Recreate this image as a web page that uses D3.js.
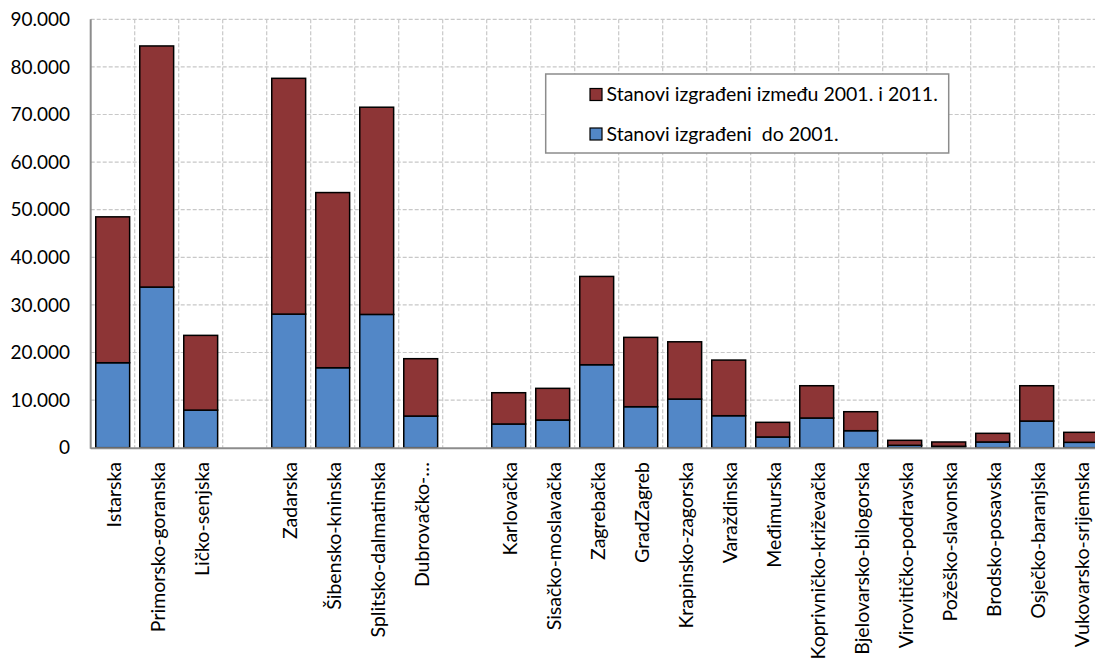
<!DOCTYPE html>
<html>
<head>
<meta charset="utf-8">
<script src="https://d3js.org/d3.v7.min.js"></script>
<style>
  body { margin: 0; background: #fff; }
  text { font-family: Lato, "Open Sans", sans-serif; fill: #000; white-space: pre; }
</style>
</head>
<body>
<svg width="1095" height="659"></svg>
<script>
// categories ("" = empty slot between regions)
const categories = [
  "Istarska", "Primorsko-goranska", "Ličko-senjska", "",
  "Zadarska", "Šibensko-kninska", "Splitsko-dalmatinska", "Dubrovačko-…", "",
  "Karlovačka", "Sisačko-moslavačka", "Zagrebačka", "GradZagreb",
  "Krapinsko-zagorska", "Varaždinska", "Međimurska", "Koprivničko-križevačka",
  "Bjelovarsko-bilogorska", "Virovitičko-podravska", "Požeško-slavonska",
  "Brodsko-posavska", "Osječko-baranjska", "Vukovarsko-srijemska"
];
// flats built up to 2001
const builtTo2001 = [
  17850, 33750, 7900, null,
  28070, 16800, 28000, 6650, null,
  4980, 5820, 17430, 8610,
  10220, 6720, 2250, 6240,
  3570, 500, 300,
  1200, 5600, 1130
];
// flats built between 2001 and 2011
const built2001to2011 = [
  30650, 50650, 15700, null,
  49530, 36800, 43530, 12050, null,
  6570, 6650, 18550, 14570,
  12030, 11690, 3080, 6780,
  3990, 1050, 900,
  1820, 7420, 2100
];
const yTicks = [0, 10000, 20000, 30000, 40000, 50000, 60000, 70000, 80000, 90000];
const seriesNames = ["Stanovi izgrađeni između 2001. i 2011.", "Stanovi izgrađeni  do 2001."];
const colors = { red: "#8d3536", blue: "#5287c7" };

const svg = d3.select("svg");
const plotLeft = 90.7, plotTop = 19.3, plotBottom = 447.7, slot = 44;

const x = d3.scaleBand()
  .domain(d3.range(categories.length))
  .range([plotLeft, plotLeft + slot * categories.length])
  .paddingInner(0.23).paddingOuter(0.115);
const y = d3.scaleLinear().domain([0, 90000]).range([plotBottom, plotTop]);

const fmt = d3.formatLocale({ decimal: ",", thousands: ".", grouping: [3], currency: ["", ""] }).format(",");

// horizontal grid
svg.append("g").selectAll("line")
  .data(yTicks.slice(1))
  .join("line")
  .attr("x1", plotLeft).attr("x2", 1095)
  .attr("y1", d => y(d)).attr("y2", d => y(d))
  .attr("stroke", "#c8c8c8").attr("stroke-width", 1.2).attr("stroke-dasharray", "4,2");

// vertical grid at slot boundaries
svg.append("g").selectAll("line")
  .data(d3.range(1, categories.length + 1))
  .join("line")
  .attr("x1", d => plotLeft + d * slot).attr("x2", d => plotLeft + d * slot)
  .attr("y1", plotTop).attr("y2", plotBottom)
  .attr("stroke", "#c8c8c8").attr("stroke-width", 1.2).attr("stroke-dasharray", "4,2");

// y tick labels
svg.append("g").selectAll("text")
  .data(yTicks)
  .join("text")
  .attr("x", 70).attr("y", d => y(d))
  .attr("dy", "0.35em")
  .attr("text-anchor", "end")
  .style("font-size", "19px")
  .text(d => fmt(d));

// bars
const bars = svg.append("g");
categories.forEach((c, i) => {
  if (builtTo2001[i] == null) return;
  const b = builtTo2001[i], r = built2001to2011[i];
  bars.append("rect")
    .attr("x", x(i)).attr("width", x.bandwidth())
    .attr("y", y(b)).attr("height", y(0) - y(b))
    .attr("fill", colors.blue).attr("stroke", "#000").attr("stroke-width", 1.5);
  bars.append("rect")
    .attr("x", x(i)).attr("width", x.bandwidth())
    .attr("y", y(b + r)).attr("height", y(b) - y(b + r))
    .attr("fill", colors.red).attr("stroke", "#000").attr("stroke-width", 1.5);
});

// axes lines
svg.append("line")
  .attr("x1", plotLeft).attr("x2", plotLeft).attr("y1", plotTop).attr("y2", plotBottom + 1)
  .attr("stroke", "#8c8c8c").attr("stroke-width", 2);
svg.append("line")
  .attr("x1", plotLeft).attr("x2", 1095).attr("y1", plotBottom + 0.5).attr("y2", plotBottom + 0.5)
  .attr("stroke", "#8c8c8c").attr("stroke-width", 2);

// x labels
svg.append("g").selectAll("text")
  .data(categories.map((c, i) => ({ c, i })).filter(d => d.c !== ""))
  .join("text")
  .attr("transform", d => "translate(" + (x(d.i) + x.bandwidth() / 2 + 1) + ",462) rotate(-90)")
  .attr("dy", "0.35em")
  .attr("text-anchor", "end")
  .style("font-size", "19.5px")
  .text(d => d.c);

// legend
const lg = svg.append("g");
lg.append("rect")
  .attr("x", 545.7).attr("y", 74).attr("width", 403).attr("height", 79)
  .attr("fill", "#fff").attr("stroke", "#8c8c8c").attr("stroke-width", 1.5);
[[colors.red, 94.5], [colors.blue, 134]].forEach((d, k) => {
  lg.append("rect")
    .attr("x", 590).attr("y", d[1] - 6).attr("width", 12).attr("height", 12)
    .attr("fill", d[0]).attr("stroke", "#000").attr("stroke-width", 1.2);
  lg.append("text")
    .attr("x", 606.5).attr("y", d[1])
    .attr("dy", "0.35em")
    .style("font-size", "19.5px")
    .text(seriesNames[k]);
});
</script>
</body>
</html>
